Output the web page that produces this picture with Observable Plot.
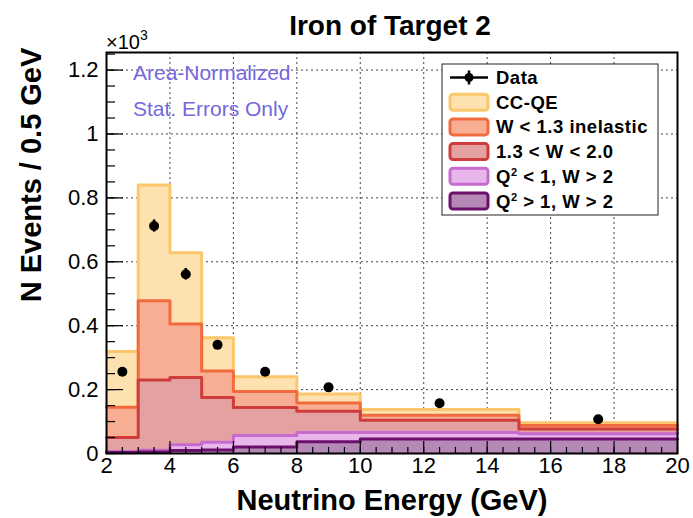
<!DOCTYPE html>
<html>
<head>
<meta charset="utf-8">
<script src="https://cdn.jsdelivr.net/npm/d3@7"></script>
<script src="https://cdn.jsdelivr.net/npm/@observablehq/plot@0.6"></script>
<style>
  body { margin: 0; background: #fff; }
  #chart { width: 693px; height: 518px; }
</style>
</head>
<body>
<div id="chart"></div>
<script>
// ---------- data ----------
const binLo = [2, 3, 4, 5, 6, 8, 10, 15];
const binHi = [3, 4, 5, 6, 8, 10, 15, 20];

// per-component contributions (x10^3 events / 0.5 GeV), stacked bottom-up
const q2HighW2 = [0.003, 0.005, 0.009, 0.011, 0.020, 0.037, 0.045, 0.045];
const q2LowW2  = [0.003, 0.005, 0.018, 0.024, 0.036, 0.029, 0.021, 0.017];
const w13to20  = [0.044, 0.220, 0.211, 0.140, 0.088, 0.066, 0.038, 0.015];
const wLt13    = [0.095, 0.248, 0.167, 0.083, 0.050, 0.026, 0.016, 0.011];
const ccqe     = [0.174, 0.362, 0.223, 0.1045, 0.046, 0.028, 0.018, 0.008];

const dataX   = [2.5, 3.5, 4.5, 5.5, 7, 9, 12.5, 17.5];
const dataY   = [0.256, 0.712, 0.561, 0.340, 0.256, 0.207, 0.157, 0.107];
const dataErr = [0.008, 0.019, 0.018, 0.012, 0.008, 0.007, 0.005, 0.005];

const xTicks = [2, 4, 6, 8, 10, 12, 14, 16, 18, 20];
const yTicks = [0, 0.2, 0.4, 0.6, 0.8, 1.0, 1.2];
const xMinorTicks = d3.range(2, 20.01, 0.5);
const yMinorTicks = d3.range(0, 1.251, 0.05);

// bottom-up order
const layerNames  = ["Q2 > 1, W > 2", "Q2 < 1, W > 2", "1.3 < W < 2.0", "W < 1.3 inelastic", "CC-QE"];
const layerFill   = ["#b588b5", "#e8b6ea", "#e3a2a1", "#f7ae92", "#fde1ae"];
const layerStroke = ["#6c106c", "#c86bd0", "#cf3c3c", "#f26b3f", "#fbc66c"];

// ---------- layout ----------
const W = 693, H = 518;
const mL = 106, mR = 16, mT = 52, mB = 65;
const plotW = W - mL - mR, plotH = H - mT - mB;

// cumulative stacks
const comps = [q2HighW2, q2LowW2, w13to20, wLt13, ccqe];
const cum = [];
let run = binLo.map(() => 0);
comps.forEach(c => { run = run.map((v, i) => v + c[i]); cum.push(run); });

const marks = [];
// grid
marks.push(Plot.ruleX(xTicks.slice(1, -1), {stroke: "#444", strokeWidth: 1, strokeDasharray: "2,3"}));
marks.push(Plot.ruleY(yTicks.slice(1), {stroke: "#444", strokeWidth: 1, strokeDasharray: "2,3"}));

// stacked histograms, drawn from the outermost down
for (let k = comps.length - 1; k >= 0; k--) {
  const rows = binLo.map((lo, i) => ({x1: lo, x2: binHi[i], y: cum[k][i]}));
  marks.push(Plot.rectY(rows, {x1: "x1", x2: "x2", y1: 0, y2: "y", fill: layerFill[k], shapeRendering: "crispEdges"}));
  const pts = rows.map(r => ({x: r.x1, y: r.y})).concat([{x: rows[rows.length - 1].x2, y: rows[rows.length - 1].y}]);
  marks.push(Plot.line(pts, {x: "x", y: "y", curve: "step-after", stroke: layerStroke[k], strokeWidth: 3}));
}

// inner ticks (ROOT style)
marks.push(Plot.ruleY(yTicks, {stroke: "black", strokeWidth: 1.2, insetRight: plotW - 17}));
marks.push(Plot.ruleY(yMinorTicks, {stroke: "black", strokeWidth: 1.2, insetRight: plotW - 9}));
marks.push(Plot.ruleX(xTicks, {stroke: "black", strokeWidth: 1.2, insetTop: plotH - 12}));
marks.push(Plot.ruleX(xMinorTicks, {stroke: "black", strokeWidth: 1.2, insetTop: plotH - 6}));

// frame
marks.push(Plot.frame({stroke: "black", strokeWidth: 2}));

// data
const dataRows = dataX.map((x, i) => ({x, y: dataY[i], e: dataErr[i]}));
marks.push(Plot.ruleX(dataRows, {x: "x", y1: d => d.y - d.e, y2: d => d.y + d.e, stroke: "black", strokeWidth: 2.5}));
marks.push(Plot.dot(dataRows, {x: "x", y: "y", r: 5, fill: "black"}));

// axes labels
marks.push(Plot.axisY(yTicks, {tickSize: 0, tickPadding: 8, fontSize: 22, label: null,
  tickFormat: d => String(+d.toFixed(1))}));
marks.push(Plot.axisX(xTicks, {tickSize: 0, tickPadding: 4, fontSize: 22, label: null,
  tickFormat: d => String(d)}));

const plot = Plot.plot({
  width: W, height: H,
  marginLeft: mL, marginRight: mR, marginTop: mT, marginBottom: mB,
  x: {domain: [2, 20]},
  y: {domain: [0, 1.255]},
  style: {fontFamily: "'Liberation Sans', Arial, sans-serif", fontSize: "22px", background: "white", color: "black"},
  marks
});
document.getElementById("chart").appendChild(plot);

// ---------- annotations ----------
const svg = d3.select(plot);
const font = "'Liberation Sans', Arial, sans-serif";

svg.append("text").attr("x", 390).attr("y", 35).attr("text-anchor", "middle")
  .attr("font-family", font).attr("font-weight", "bold").attr("font-size", 28)
  .text("Iron of Target 2");

svg.append("text").attr("x", 392).attr("y", 510).attr("text-anchor", "middle")
  .attr("font-family", font).attr("font-weight", "bold").attr("font-size", 29)
  .text("Neutrino Energy (GeV)");

svg.append("text").attr("transform", "translate(41,175) rotate(-90)").attr("text-anchor", "middle")
  .attr("font-family", font).attr("font-weight", "bold").attr("font-size", 29)
  .text("N Events / 0.5 GeV");

const mult = svg.append("text").attr("x", 106).attr("y", 49).attr("text-anchor", "start")
  .attr("font-family", font).attr("font-size", 20);
mult.append("tspan").text("×10");
mult.append("tspan").attr("font-size", 14).attr("dy", -9).text("3");

const noteColor = "#7468de";
svg.append("text").attr("x", 133).attr("y", 80).attr("text-anchor", "start").attr("font-family", font).attr("font-size", 21)
  .attr("fill", noteColor).text("Area-Normalized");
svg.append("text").attr("x", 133).attr("y", 116).attr("text-anchor", "start").attr("font-family", font).attr("font-size", 21)
  .attr("fill", noteColor).text("Stat. Errors Only");

// legend
const lg = svg.append("g").attr("text-anchor", "start");
lg.append("rect").attr("x", 442).attr("y", 64).attr("width", 216).attr("height", 151)
  .attr("fill", "white").attr("stroke", "#222").attr("stroke-width", 1);
const rowY = i => 77.5 + i * 24.7;
function addLabel(i, parts) {
  const t = lg.append("text").attr("x", 496).attr("y", rowY(i) + 6.5).attr("text-anchor", "start")
    .attr("font-family", font).attr("font-weight", "bold").attr("font-size", 18.5)
    .attr("letter-spacing", 0.5);
  parts.forEach(p => {
    if (p.sup) t.append("tspan").attr("font-size", 11).attr("dy", -7).text(p.sup);
    else t.append("tspan").attr("dy", p.after ? 7 : 0).text(p.t);
  });
}
// Data entry
lg.append("line").attr("x1", 450).attr("x2", 488).attr("y1", rowY(0)).attr("y2", rowY(0))
  .attr("stroke", "black").attr("stroke-width", 2.5);
lg.append("line").attr("x1", 469).attr("x2", 469).attr("y1", rowY(0) - 7).attr("y2", rowY(0) + 7)
  .attr("stroke", "black").attr("stroke-width", 2.5);
lg.append("circle").attr("cx", 469).attr("cy", rowY(0)).attr("r", 4.5).attr("fill", "black");
addLabel(0, [{t: "Data"}]);
const legendOrder = [4, 3, 2, 1, 0];
const legendLabels = [
  [{t: "CC-QE"}],
  [{t: "W < 1.3 inelastic"}],
  [{t: "1.3 < W < 2.0"}],
  [{t: "Q"}, {sup: "2"}, {t: " < 1, W > 2", after: true}],
  [{t: "Q"}, {sup: "2"}, {t: " > 1, W > 2", after: true}]
];
legendOrder.forEach((k, j) => {
  const i = j + 1;
  lg.append("rect").attr("x", 450).attr("y", rowY(i) - 8).attr("width", 38).attr("height", 16)
    .attr("rx", 3).attr("fill", layerFill[k]).attr("stroke", layerStroke[k]).attr("stroke-width", 3);
  addLabel(i, legendLabels[j]);
});
</script>
</body>
</html>
